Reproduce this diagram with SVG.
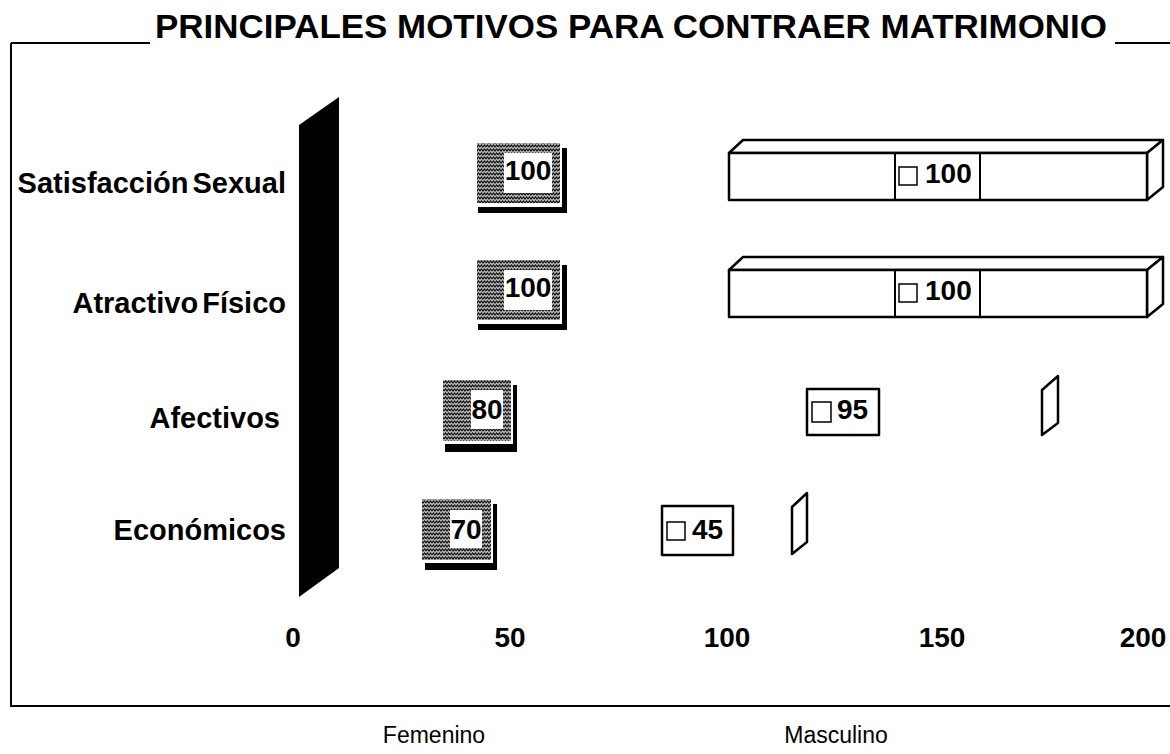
<svg xmlns="http://www.w3.org/2000/svg" width="1170" height="754" viewBox="0 0 1170 754">
<defs>
<pattern id="hatch" width="6" height="4" patternUnits="userSpaceOnUse">
<rect width="6" height="4" fill="#b4b4b4"/>
<path d="M0,3 L1.5,1 L3,3 L4.5,1 L6,3" stroke="#111" stroke-width="1.2" fill="none"/>
</pattern>
<style>
.t{font-family:"Liberation Sans",Arial,sans-serif;fill:#000}
.b{font-weight:bold}
.ln{stroke:#000;stroke-width:2;fill:none}
.box{stroke:#000;stroke-width:2.5;fill:#fff;stroke-linejoin:round}
.key{stroke:#000;stroke-width:1.5;fill:#fff}
</style>
</defs>
<rect width="1170" height="754" fill="#fff"/>
<g id="frame">
<path class="ln" d="M11,43 H150 M1115,43 H1170 M11,43 V706 H1170"/>
<text class="t b" x="155" y="38" font-size="33" textLength="952" lengthAdjust="spacingAndGlyphs">PRINCIPALES MOTIVOS PARA CONTRAER MATRIMONIO</text>
</g>
<g id="wall"><polygon points="299,125 339,97 339,568 299,597" fill="#000"/></g>
<g id="categories" font-size="29" text-anchor="end" word-spacing="-4">
<text class="t b" x="286" y="193">Satisfacción Sexual</text>
<text class="t b" x="286" y="313">Atractivo Físico</text>
<text class="t b" x="280" y="428">Afectivos</text>
<text class="t b" x="286" y="540">Económicos</text>
</g>
<g id="axis" font-size="28" text-anchor="middle">
<text class="t b" x="293" y="647">0</text>
<text class="t b" x="510" y="647">50</text>
<text class="t b" x="727" y="647">100</text>
<text class="t b" x="942" y="647">150</text>
<text class="t b" x="1143" y="647">200</text>
</g>
<g id="fem-sat">
<rect x="478" y="148" width="89" height="65" fill="#000"/>
<rect x="477" y="143" width="85" height="64" fill="#fff"/>
<rect x="477" y="143" width="83" height="60" fill="url(#hatch)"/>
<rect x="504" y="153" width="48" height="40" fill="#fff"/>
<text class="t b" x="528" y="180" font-size="28" text-anchor="middle">100</text>
</g>
<g id="fem-atr">
<rect x="478" y="265" width="89" height="65" fill="#000"/>
<rect x="477" y="260" width="85" height="64" fill="#fff"/>
<rect x="477" y="260" width="83" height="60" fill="url(#hatch)"/>
<rect x="504" y="270" width="48" height="40" fill="#fff"/>
<text class="t b" x="528" y="297" font-size="28" text-anchor="middle">100</text>
</g>
<g id="fem-afe">
<rect x="445" y="385" width="72" height="67" fill="#000"/>
<rect x="443" y="380" width="70" height="64" fill="#fff"/>
<rect x="443" y="380" width="68" height="61" fill="url(#hatch)"/>
<rect x="471" y="390" width="32" height="39" fill="#fff"/>
<text class="t b" x="487" y="419" font-size="28" text-anchor="middle">80</text>
</g>
<g id="fem-eco">
<rect x="425" y="504" width="72" height="66" fill="#000"/>
<rect x="422" y="499" width="71" height="64" fill="#fff"/>
<rect x="422" y="499" width="69" height="61" fill="url(#hatch)"/>
<rect x="450" y="510" width="32" height="38" fill="#fff"/>
<text class="t b" x="466" y="539" font-size="28" text-anchor="middle">70</text>
</g>
<g id="masc-sat">
<polygon class="box" points="729,153 743,140 1163,140 1147,153"/>
<polygon class="box" points="1147,153 1163,140 1163,187 1147,200"/>
<rect class="box" x="729" y="153" width="418" height="47"/>
<path class="ln" stroke-width="2.5" d="M895,153 V200 M980,153 V200"/>
<rect class="key" x="899" y="167" width="18" height="18"/>
<text class="t b" x="925" y="183" font-size="28">100</text>
</g>
<g id="masc-atr">
<polygon class="box" points="729,270 743,257 1163,257 1147,270"/>
<polygon class="box" points="1147,270 1163,257 1163,304 1147,317"/>
<rect class="box" x="729" y="270" width="418" height="47"/>
<path class="ln" stroke-width="2.5" d="M895,270 V317 M980,270 V317"/>
<rect class="key" x="899" y="284" width="18" height="18"/>
<text class="t b" x="925" y="300" font-size="28">100</text>
</g>
<g id="masc-afe">
<rect class="box" x="807" y="389" width="72" height="46" stroke-width="2"/>
<rect class="key" x="812" y="402" width="19" height="20"/>
<text class="t b" x="837" y="419" font-size="28">95</text>
<polygon class="box" stroke-width="1.5" points="1042,390 1058,376 1058,423 1042,435"/>
</g>
<g id="masc-eco">
<rect class="box" x="662" y="506" width="71" height="49" stroke-width="2"/>
<rect class="key" x="667" y="522" width="18" height="18"/>
<text class="t b" x="692" y="539" font-size="28">45</text>
<polygon class="box" stroke-width="1.5" points="792,507 807,493 807,542 792,554"/>
</g>
<g id="legend" font-size="23" text-anchor="middle">
<text class="t" x="434" y="743">Femenino</text>
<text class="t" x="836" y="743">Masculino</text>
</g>
</svg>
